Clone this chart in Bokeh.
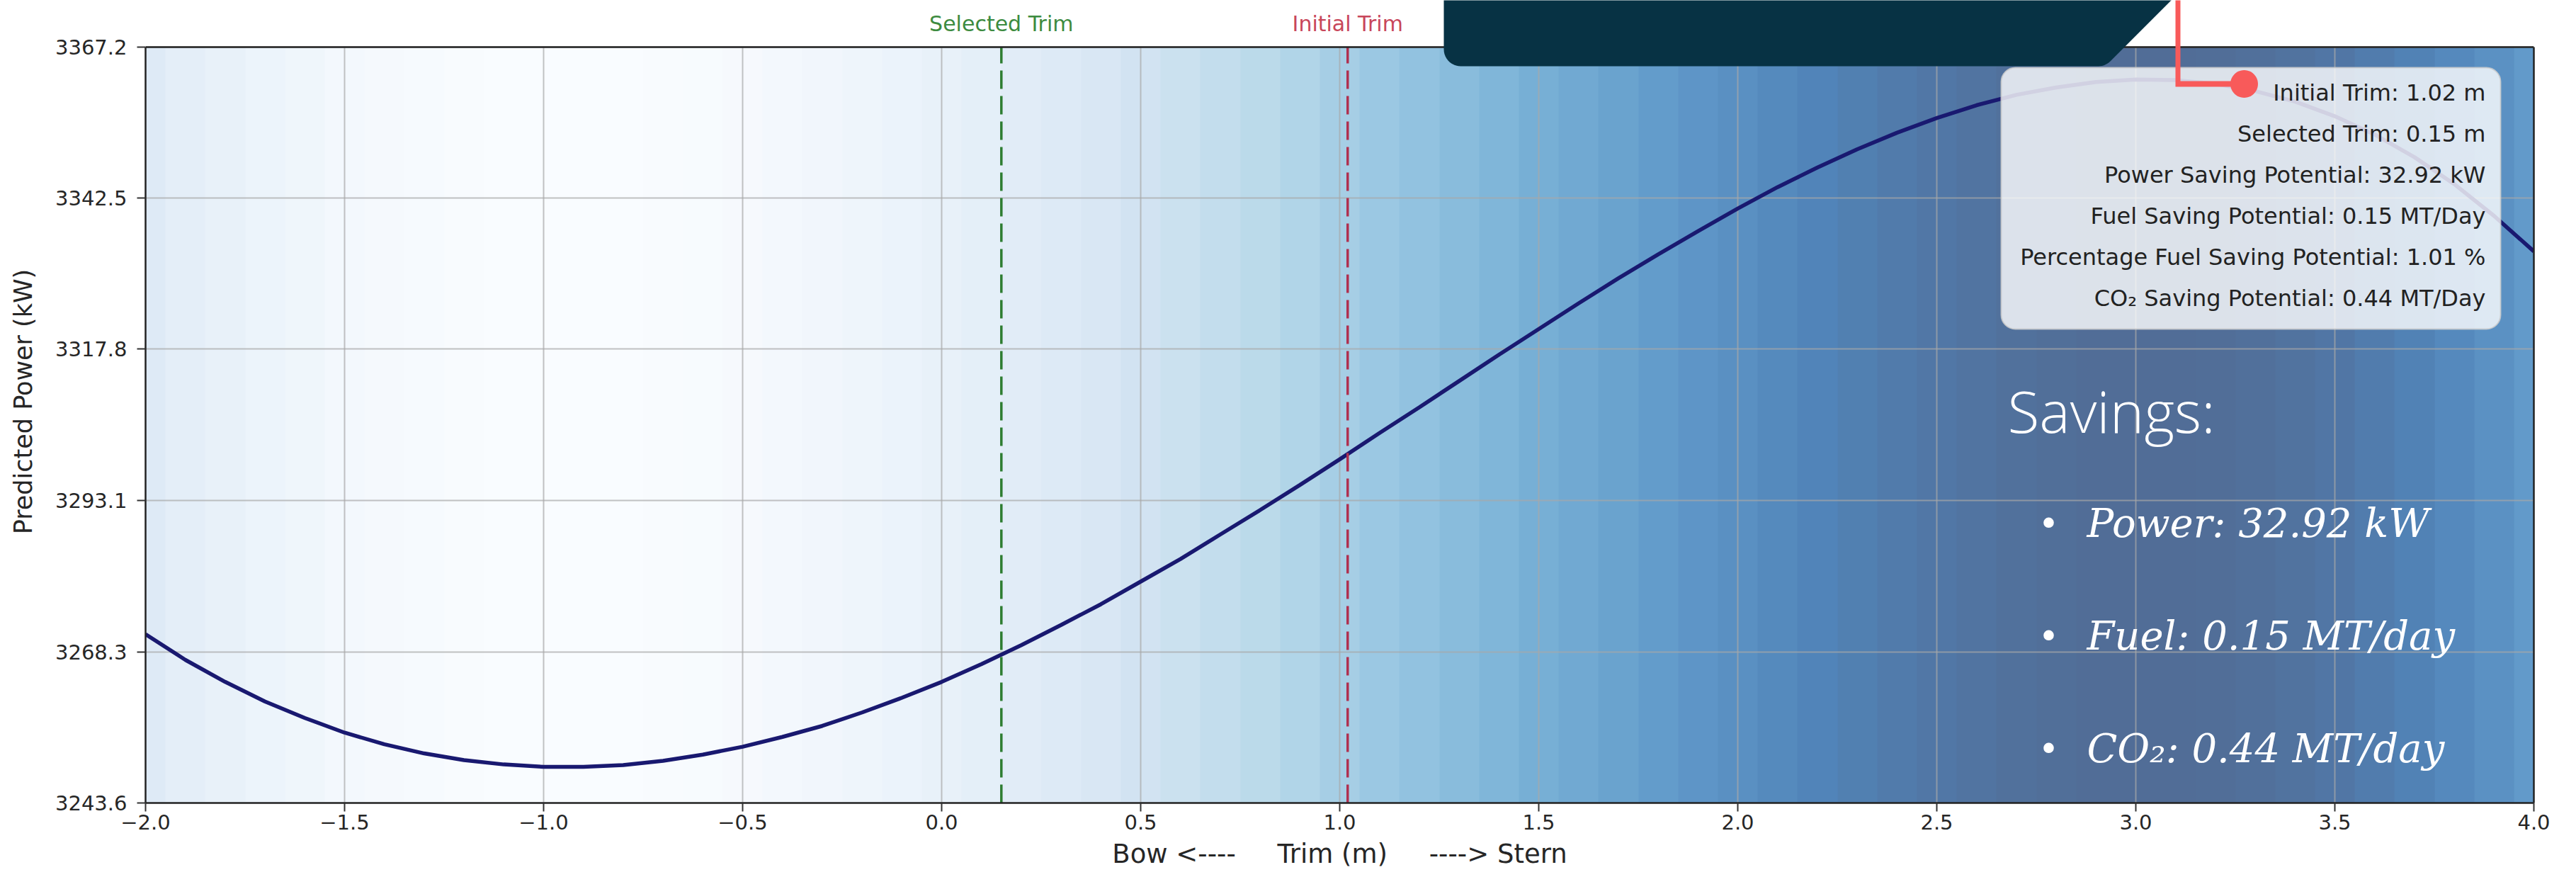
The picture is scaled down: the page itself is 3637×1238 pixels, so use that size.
import numpy as np
from bokeh.plotting import figure
from bokeh.models import (Range1d, FixedTicker, Span, Label, BoxAnnotation,
                          PolyAnnotation, LinearColorMapper, LinearAxis)
from bokeh.palettes import Blues256
from bokeh.embed import file_html
from bokeh.resources import INLINE

# ---------------- data ----------------
trim_m = [-2.0, -1.9, -1.8, -1.7, -1.6, -1.5, -1.4, -1.3, -1.2, -1.1,
          -1.0, -0.9, -0.8, -0.7, -0.6, -0.5, -0.4, -0.3, -0.2, -0.1,
          0.0, 0.1, 0.2, 0.3, 0.4, 0.5, 0.6, 0.7, 0.8, 0.9,
          1.0, 1.1, 1.2, 1.3, 1.4, 1.5, 1.6, 1.7, 1.8, 1.9,
          2.0, 2.1, 2.2, 2.3, 2.4, 2.5, 2.6, 2.7, 2.8, 2.9,
          3.0, 3.1, 3.2, 3.3, 3.4, 3.5, 3.6, 3.7, 3.8, 3.9, 4.0]
predicted_power_kw = [3271.2, 3267.0, 3263.4, 3260.2, 3257.5, 3255.1, 3253.2, 3251.7, 3250.6, 3249.9,
                      3249.5, 3249.5, 3249.8, 3250.5, 3251.5, 3252.8, 3254.4, 3256.2, 3258.4, 3260.8,
                      3263.4, 3266.3, 3269.4, 3272.7, 3276.1, 3279.8, 3283.5, 3287.5, 3291.5, 3295.6,
                      3299.8, 3304.1, 3308.3, 3312.6, 3316.9, 3321.1, 3325.3, 3329.4, 3333.3, 3337.1,
                      3340.8, 3344.3, 3347.5, 3350.5, 3353.2, 3355.6, 3357.7, 3359.4, 3360.6, 3361.5,
                      3361.9, 3361.8, 3361.2, 3360.0, 3358.3, 3355.9, 3352.9, 3349.2, 3344.8, 3339.6, 3333.8]

selected_trim = 0.15
initial_trim = 1.02
power_saving_kw = 32.92
fuel_saving_mt_day = 0.15
pct_fuel_saving = 1.01
co2_saving_mt_day = 0.44

x_ticks = [-2.0, -1.5, -1.0, -0.5, 0.0, 0.5, 1.0, 1.5, 2.0, 2.5, 3.0, 3.5, 4.0]
x_tick_labels = ["\u22122.0", "\u22121.5", "\u22121.0", "\u22120.5", "0.0", "0.5", "1.0",
                 "1.5", "2.0", "2.5", "3.0", "3.5", "4.0"]
y_ticks = [3243.6, 3268.3, 3293.1, 3317.8, 3342.5, 3367.2]
y_tick_labels = ["3243.6", "3268.3", "3293.1", "3317.8", "3342.5", "3367.2"]

info_lines = [
    f"Initial Trim: {initial_trim:.2f} m",
    f"Selected Trim: {selected_trim:.2f} m",
    f"Power Saving Potential: {power_saving_kw:.2f} kW",
    f"Fuel Saving Potential: {fuel_saving_mt_day:.2f} MT/Day",
    f"Percentage Fuel Saving Potential: {pct_fuel_saving:.2f} %",
    f"CO\u2082 Saving Potential: {co2_saving_mt_day:.2f} MT/Day",
]
savings_lines = [
    f"Power: {power_saving_kw:.2f} kW",
    f"Fuel: {fuel_saving_mt_day:.2f} MT/day",
    f"CO\u2082: {co2_saving_mt_day:.2f} MT/day",
]

# ---------------- layout (page pixels) ----------------
W, H = 3632, 1236
FRAME_L, FRAME_R, FRAME_T, FRAME_B = 205, 3577, 66, 1133   # axes box on the page
X_MIN, X_MAX = x_ticks[0], x_ticks[-1]
Y_MIN, Y_MAX = y_ticks[0], y_ticks[-1]


def xd(px):
    return X_MIN + (np.asarray(px, float) - FRAME_L) * (X_MAX - X_MIN) / (FRAME_R - FRAME_L)


def yd(py):
    return Y_MIN + (FRAME_B - np.asarray(py, float)) * (Y_MAX - Y_MIN) / (FRAME_B - FRAME_T)


# the Bokeh frame reaches up to the page top so the strip above the axes can hold annotations
Y_TOP = float(yd(0))

p = figure(width=W, height=H, x_range=Range1d(X_MIN, X_MAX), y_range=Range1d(Y_MIN, Y_TOP),
           output_backend="svg", toolbar_location=None,
           min_border_left=FRAME_L, min_border_right=W - FRAME_R,
           min_border_top=0, min_border_bottom=H - FRAME_B)
p.background_fill_color = "white"
p.border_fill_color = "white"
p.outline_line_color = None

# gradient background coloured by the predicted power
step = trim_m[1] - trim_m[0]
mapper = LinearColorMapper(palette=list(Blues256[::-1]),
                           low=min(predicted_power_kw), high=max(predicted_power_kw))
p.image(image=[np.array(predicted_power_kw)[np.newaxis, :]],
        x=trim_m[0] - step / 2, y=Y_MIN, dw=(trim_m[-1] - trim_m[0]) + step, dh=Y_MAX - Y_MIN,
        color_mapper=mapper, global_alpha=0.7, level="image")

# curve
p.line(trim_m, predicted_power_kw, line_color="#191970", line_width=5.5)

# trim markers
p.segment(x0=[selected_trim], y0=[Y_MIN], x1=[selected_trim], y1=[Y_MAX],
          line_color="#2e7d32", line_dash="26 10", line_width=3.5)
p.segment(x0=[initial_trim], y0=[Y_MIN], x1=[initial_trim], y1=[Y_MAX],
          line_color="#b0304f", line_dash="26 10", line_width=3.5)

# axes
right_axis = LinearAxis(ticker=FixedTicker(ticks=[]))
p.add_layout(right_axis, "right")
for ax, ticks, labels in ((p.xaxis[0], x_ticks, x_tick_labels), (p.yaxis[0], y_ticks, y_tick_labels)):
    ax.ticker = FixedTicker(ticks=ticks)
    ax.major_label_overrides = {t: l for t, l in zip(ticks, labels)}
    ax.major_label_text_font = "DejaVu Sans"
    ax.major_label_text_font_size = "29px"
    ax.major_label_text_color = "#262626"
    ax.major_tick_out = 12
    ax.major_tick_in = 0
    ax.major_tick_line_color = "#333333"
    ax.major_tick_line_width = 2
    ax.axis_label_text_font = "DejaVu Sans"
    ax.axis_label_text_font_style = "normal"
    ax.axis_label_text_color = "#262626"
for ax in (p.yaxis[0], right_axis, p.xaxis[0]):
    ax.minor_tick_line_color = None
    ax.axis_line_color = "#222222"
    ax.axis_line_width = 2.5
p.yaxis[0].bounds = (Y_MIN, Y_MAX)
right_axis.bounds = (Y_MIN, Y_MAX)
right_axis.major_tick_line_color = None
right_axis.major_label_text_font_size = "0px"

p.xaxis.axis_label = "Bow <---- \u00a0\u00a0\u00a0 Trim (m) \u00a0\u00a0\u00a0 ----> Stern"
p.xaxis.axis_label_text_font_size = "37px"
p.xaxis.major_label_standoff = 4
p.xaxis.axis_label_standoff = 10
p.yaxis[0].axis_label = "Predicted Power (kW)"
p.yaxis[0].axis_label_text_font_size = "35px"
p.yaxis[0].major_label_standoff = 14
p.yaxis[0].axis_label_standoff = 22

p.xgrid.ticker = FixedTicker(ticks=x_ticks)
p.ygrid.ticker = FixedTicker(ticks=y_ticks)
p.grid.grid_line_color = "#a8a8a8"
p.grid.grid_line_alpha = 0.7
p.grid.grid_line_width = 2
xg = p.xgrid[0]
if "cross_bounds" in xg.properties():
    xg.cross_bounds = (Y_MIN, Y_MAX)
else:
    xg.grid_line_color = None
    p.segment(x0=x_ticks, y0=[Y_MIN] * len(x_ticks), x1=x_ticks, y1=[Y_MAX] * len(x_ticks),
              line_color="#a8a8a8", line_alpha=0.7, line_width=2, level="underlay")

# top border of the axes box
p.add_layout(Span(location=Y_MAX, dimension="width", line_color="#222222", line_width=2.5))

# trim labels above the axes
p.add_layout(Label(x=selected_trim, y=float(yd(33)), text="Selected Trim", text_align="center",
                   text_baseline="middle", text_font="DejaVu Sans", text_font_size="30px",
                   text_color="#3d8b40"))
p.add_layout(Label(x=initial_trim, y=float(yd(33)), text="Initial Trim", text_align="center",
                   text_baseline="middle", text_font="DejaVu Sans", text_font_size="30px",
                   text_color="#c8465a"))

# legend-like info box
p.add_layout(BoxAnnotation(left=float(xd(2825)), right=float(xd(3530)),
                           top=float(yd(95)), bottom=float(yd(464)),
                           fill_color="white", fill_alpha=0.8, line_color="#cccccc",
                           line_alpha=0.8, line_width=2, border_radius=20))
for i, line in enumerate(info_lines):
    p.add_layout(Label(x=float(xd(3509)), y=float(yd(130 + 58 * i)), text=line,
                       text_align="right", text_baseline="middle", text_font="DejaVu Sans",
                       text_font_size="32px", text_color="#222222"))

# Savings overlay text
p.add_layout(Label(x=float(xd(2834)), y=float(yd(578)), text="Savings:", text_align="left",
                   text_baseline="middle", text_font="Open Sans Light",
                   text_font_size="82px", text_color="white"))
for i, line in enumerate(savings_lines):
    yy = float(yd(738 + 159 * i))
    p.add_layout(Label(x=float(xd(2892)), y=yy, text="\u2022", text_align="center",
                       text_baseline="middle", text_font="DejaVu Sans", text_font_size="50px",
                       text_color="white"))
    p.add_layout(Label(x=float(xd(2946)), y=yy, text=line, text_align="left",
                       text_baseline="middle", text_font="DejaVu Serif", text_font_style="italic",
                       text_font_size="56px", text_color="white"))

# dark callout shape at the top
r1, r2, vx, by = 24, 24, 2972, 93
pts = [(2038, -30), (2038, by - r1)]
for th in np.linspace(np.pi, np.pi / 2, 12):
    pts.append((2038 + r1 + r1 * np.cos(th), by - r1 + r1 * np.sin(th)))
cx2, cy2 = vx - 0.4142 * r2, by - r2
for th in np.linspace(np.pi / 2, np.pi / 4, 8):
    pts.append((cx2 + r2 * np.cos(th), cy2 + r2 * np.sin(th)))
pts.append((vx + by + 30, -30))
shape_px, shape_py = [np.array(v) for v in zip(*pts)]

lx = np.array([3071, 3078, 3078, 3168, 3168, 3071])
ly = np.array([-30, -30, 114, 114, 122, 122])
th = np.linspace(0, 2 * np.pi, 48, endpoint=False)
dot_px, dot_py = 3168 + 19.5 * np.cos(th), 118 + 19.5 * np.sin(th)

for sx, sy, col in ((shape_px, shape_py, "#073244"), (lx, ly, "#f85a5a"), (dot_px, dot_py, "#f85a5a")):
    p.add_layout(PolyAnnotation(xs=[float(v) for v in xd(sx)], ys=[float(v) for v in yd(sy)],
                                fill_color=col, fill_alpha=1.0, line_color=None, level="overlay"))

open("out.html", "w").write(file_html(p, INLINE))
